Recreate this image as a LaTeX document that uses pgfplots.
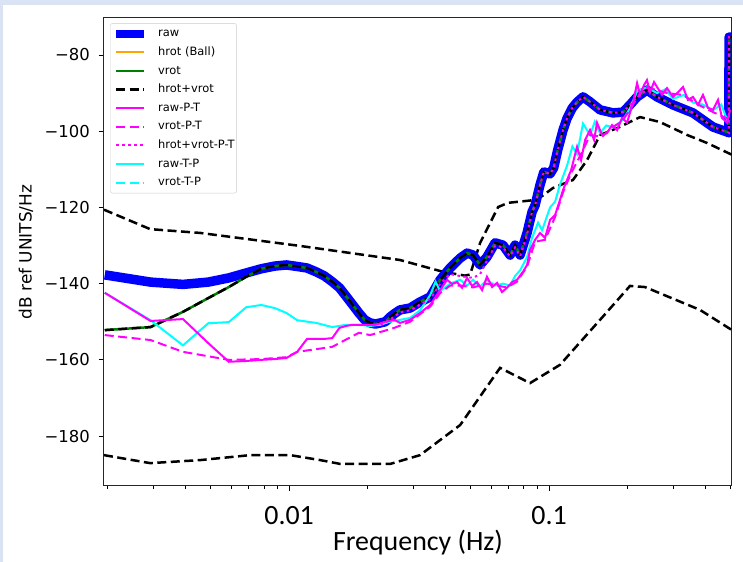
\documentclass[border=0pt]{standalone}
\usepackage{fontspec}
\setmainfont{DejaVu Sans}
\newfontfamily\carlito{Carlito}
\usepackage{pgfplots}
\pgfplotsset{compat=1.18}
\definecolor{bgblue}{RGB}{218,227,243}
\definecolor{mplorange}{RGB}{255,165,0}
\definecolor{mplgreen}{RGB}{0,128,0}
\definecolor{mplblue}{RGB}{0,0,255}
\definecolor{mplmag}{RGB}{255,0,255}
\definecolor{mplcyan}{RGB}{0,255,255}

\pgfplotstableread{
f v
0.001953 -137.7
0.00293 -139.6
0.003906 -140.2
0.004883 -139.6
0.005859 -138.5
0.006836 -137.2
0.007813 -136.1
0.008789 -135.4
0.009766 -135.1
0.010742 -135.5
0.011719 -135.9
0.012695 -136.9
0.013672 -138.0
0.014648 -139.5
0.015625 -141.1
0.016602 -143.4
0.017578 -145.6
0.018555 -147.7
0.019531 -149.5
0.020508 -150.3
0.021484 -150.6
0.022461 -150.3
0.023438 -150.0
0.024414 -148.8
0.025391 -147.9
0.0267 -146.9
0.0292 -146.4
0.0319 -144.8
0.0349 -143.5
0.0381 -139.0
0.0416 -135.9
0.0455 -133.3
0.0484 -132.0
0.0510 -132.5
0.0543 -135.1
0.0577 -133.0
0.0620 -129.3
0.0665 -129.9
0.0708 -132.5
0.0740 -129.9
0.0774 -132.5
0.0823 -126.7
0.0860 -121.2
0.0884 -119.4
0.0923 -114.1
0.0955 -110.7
0.1009 -111.2
0.1042 -109.6
0.1080 -104.9
0.1132 -99.7
0.1173 -96.6
0.1226 -94.0
0.1281 -92.4
0.1351 -91.0
0.1438 -92.3
0.1571 -94.4
0.1763 -95.2
0.1926 -95.0
0.2048 -93.1
0.2181 -91.0
0.2381 -89.2
0.2602 -91.0
0.2998 -93.1
0.3579 -95.2
0.4273 -98.9
0.4837 -100.2
0.4920 -100.4
0.4925 -75.3
0.5056 -75.3
}\rawtab

\pgfplotstableread{
f v
0.001953 -152.2
0.00293 -151.4
0.003906 -147.4
0.004883 -143.8
0.005859 -140.9
0.006836 -138.2
0.007813 -136.1
0.008789 -135.4
0.009766 -135.1
0.010742 -135.5
0.011719 -135.9
0.012695 -136.9
0.013672 -138.0
0.014648 -139.5
0.015625 -141.1
0.016602 -143.4
0.017578 -145.6
0.018555 -147.7
0.019531 -149.5
0.020508 -150.3
0.021484 -150.6
0.022461 -150.3
0.023438 -150.0
0.024414 -148.8
0.025391 -147.9
0.0267 -146.9
0.0292 -146.4
0.0319 -144.8
0.0349 -143.5
0.0381 -139.0
0.0416 -135.9
0.0455 -133.3
0.0484 -132.0
0.0510 -132.5
0.0543 -135.1
0.0577 -133.0
0.0620 -129.3
0.0665 -129.9
0.0708 -132.5
0.0740 -129.9
0.0774 -132.5
0.0823 -126.7
0.0860 -121.2
0.0884 -119.4
0.0923 -114.1
0.0955 -110.7
0.1009 -111.2
0.1042 -109.6
0.1080 -104.9
0.1132 -99.7
0.1173 -96.6
0.1226 -94.0
0.1281 -92.4
0.1351 -91.0
0.1438 -92.3
0.1571 -94.4
0.1763 -95.2
0.1926 -95.0
0.2048 -93.1
0.2181 -91.0
0.2381 -89.2
0.2602 -91.0
0.2998 -93.1
0.3579 -95.2
0.4273 -98.9
0.4837 -100.2
0.4920 -100.4
0.4925 -75.3
0.5056 -75.3
}\vrottab

\pgfplotstableread{
f v
0.0225 -150.8
0.0244 -149.5
0.0267 -147.5
0.0292 -147.0
0.0319 -145.5
0.0349 -144.0
0.0381 -140.0
0.0416 -137.5
0.0455 -138.0
0.0484 -138.3
0.0510 -138.5
0.0543 -137.5
0.0577 -134.0
0.0620 -130.0
0.0665 -130.5
0.0708 -132.8
0.0740 -130.5
0.0774 -132.8
0.0823 -127.0
0.0860 -121.2
0.0884 -119.4
0.0923 -114.1
0.0955 -110.7
0.1009 -111.2
0.1042 -109.6
0.1080 -104.9
0.1132 -99.7
0.1173 -96.6
0.1226 -94.0
0.1281 -92.4
0.1351 -91.0
0.1438 -92.3
0.1571 -94.4
0.1763 -95.2
0.1926 -95.0
0.2048 -93.1
0.2181 -91.0
0.2381 -89.2
0.2602 -91.0
0.2998 -93.1
0.3579 -95.2
0.4273 -98.9
0.4837 -100.2
0.4920 -100.4
0.4925 -75.3
0.5056 -75.3
}\hvpttab

\pgfplotstableread{
f v
0.001953 -142.4
0.00293 -149.8
0.003906 -149.3
0.004883 -155.6
0.005859 -160.5
0.006836 -160.3
0.007813 -160.0
0.008789 -159.8
0.009766 -159.5
0.010742 -157.9
0.011719 -154.5
0.012695 -154.5
0.013672 -154.5
0.014648 -154.3
0.015625 -151.6
0.016602 -151.1
0.017578 -150.8
0.018555 -150.8
0.019531 -150.8
0.021484 -150.8
0.023438 -150.0
0.025391 -149.5
0.0267 -150.3
0.0292 -149.5
0.0319 -147.7
0.0349 -145.6
0.0381 -141.7
0.04052 -139.0
0.04236 -140.1
0.04427 -139.6
0.04628 -141.1
0.04837 -138.5
0.05056 -140.6
0.05284 -139.6
0.05524 -141.7
0.0577 -138.2
0.06036 -140.9
0.0631 -139.8
0.0659 -142.2
0.0689 -141.1
0.0721 -139.6
0.0753 -139.0
0.0794 -136.9
0.0823 -135.1
0.0845 -131.2
0.0884 -128.5
0.0923 -126.7
0.0965 -128.0
0.1009 -123.3
0.1055 -122.0
0.1102 -118.0
0.1132 -115.4
0.1173 -112.8
0.1216 -110.2
0.1281 -104.1
0.1328 -107.6
0.1376 -102.3
0.1438 -99.7
0.1490 -102.3
0.1530 -97.8
0.1599 -101.0
0.1671 -100.5
0.1747 -98.4
0.1828 -99.7
0.1909 -96.5
0.1995 -97.8
0.2103 -92.6
0.2181 -87.4
0.2240 -90.5
0.2319 -87.9
0.2381 -86.6
0.2446 -89.8
0.2534 -87.1
0.2602 -88.4
0.2720 -90.5
0.2843 -88.7
0.2998 -91.0
0.3134 -89.8
0.3276 -88.4
0.3424 -91.8
0.3579 -91.0
0.3741 -93.1
0.3911 -90.5
0.4088 -93.9
0.4273 -94.4
0.4467 -91.8
0.4627 -96.5
0.4837 -97.8
0.4969 -94.4
}\rawpttab

\pgfplotstableread{
f v
0.001953 -153.5
0.00293 -154.8
0.003906 -157.9
0.005859 -160.0
0.007813 -159.8
0.009766 -159.3
0.010742 -157.9
0.014648 -156.6
0.018555 -152.9
0.020508 -153.5
0.025391 -151.6
0.0292 -150.0
0.0319 -148.0
0.0349 -146.0
0.0381 -142.5
0.0416 -140.5
0.0455 -140.5
0.0510 -141.0
0.0577 -140.0
0.0631 -140.5
0.0689 -141.0
0.0753 -139.5
0.0823 -135.5
0.0884 -129.0
0.0965 -128.5
0.1055 -122.5
0.1132 -116.0
0.1216 -111.0
0.1328 -106.0
0.1438 -101.0
0.1599 -101.5
0.1747 -99.0
0.1909 -97.5
0.2103 -93.0
0.2319 -88.5
0.2534 -89.0
0.2843 -90.0
0.3276 -90.5
0.3741 -93.0
0.4273 -95.0
0.4969 -97.0
}\vrotpttab

\pgfplotstableread{
f v
0.001953 -142.4
0.00293 -149.6
0.003906 -156.2
0.004883 -150.4
0.005859 -150.1
0.006836 -146.2
0.007813 -145.6
0.008789 -146.4
0.009766 -147.7
0.010742 -149.6
0.012695 -150.3
0.014648 -151.4
0.016602 -150.8
0.018555 -150.8
0.020508 -151.1
0.022461 -150.8
0.024414 -150.0
0.0267 -149.5
0.0292 -149.0
0.0319 -147.0
0.0349 -143.0
0.0366 -139.5
0.0381 -142.0
0.0416 -140.0
0.0455 -139.0
0.0484 -140.5
0.0510 -139.0
0.0543 -140.8
0.0577 -139.0
0.0620 -140.5
0.0665 -140.0
0.0708 -140.5
0.0740 -138.0
0.0774 -136.5
0.0823 -133.0
0.0860 -128.0
0.0907 -124.0
0.0940 -126.0
0.1009 -120.0
0.1055 -118.5
0.1102 -114.0
0.1173 -109.0
0.1230 -104.0
0.1281 -106.0
0.1351 -98.0
0.1438 -101.0
0.1500 -97.5
0.1571 -100.5
0.1660 -98.5
0.1763 -99.0
0.1926 -97.0
0.2048 -94.0
0.2181 -89.5
0.2381 -88.5
0.2602 -90.0
0.2800 -89.0
0.2998 -91.5
0.3300 -90.5
0.3579 -92.5
0.3900 -93.0
0.4273 -94.5
0.4600 -93.0
0.4837 -97.0
0.4923 -96.0
}\rawtptab

\pgfplotstableread{
f v
0.00194 -120.6
0.00292 -125.7
0.00455 -126.7
0.0110 -130.1
0.0267 -133.8
0.0391 -136.9
0.0475 -137.9
0.0497 -137.6
0.0543 -129.3
0.0637 -119.9
0.0696 -118.8
0.0899 -118.0
0.1036 -114.9
0.1236 -112.8
0.140 -107.6
0.1571 -101.0
0.1828 -99.2
0.224 -96.3
0.267 -97.6
0.340 -101.0
0.4055 -103.1
0.5056 -106.2
}\hightab

\pgfplotstableread{
f v
0.00194 -185.0
0.00292 -187.1
0.00455 -186.3
0.00708 -185.0
0.01009 -185.0
0.01316 -186.3
0.01571 -187.3
0.0245 -187.3
0.0319 -185.0
0.0455 -177.1
0.0648 -162.1
0.0845 -166.1
0.1102 -161.3
0.1571 -149.5
0.2048 -140.6
0.2340 -140.9
0.381 -146.9
0.5056 -152.2
}\lowtab

\begin{document}
\begin{tikzpicture}
\fill[bgblue] (0bp,0bp) rectangle (743bp,562bp);
\fill[white] (3bp,0bp) rectangle (743bp,557bp);
\begin{axis}[
  at={(104bp,76bp)}, anchor=south west,
  scale only axis, width=628bp, height=468bp,
  xmode=log, xmin=0.00194, xmax=0.5056,
  ymin=-193.1, ymax=-70.3,
  xtick={0.01,0.1}, xticklabels={\mbox{0.01},\mbox{0.1}},
  minor xtick={0.002,0.003,0.004,0.005,0.006,0.007,0.008,0.009,0.02,0.03,0.04,0.05,0.06,0.07,0.08,0.09,0.2,0.3,0.4,0.5},
  ytick={-180,-160,-140,-120,-100,-80},
  yticklabels={\mbox{−180},\mbox{−160},\mbox{−140},\mbox{−120},\mbox{−100},\mbox{−80}},
  tick pos=left, tick align=outside,
  major tick length=5bp, minor tick length=3bp,
  tick style={black, line width=0.8bp},
  axis line style={black!85, line width=1bp},
  yticklabel style={font=\fontsize{16.5}{18}\selectfont, anchor=east, inner sep=0pt, xshift=-9bp},
  xticklabel style={font=\carlito\fontsize{28}{30}\selectfont, anchor=center, inner sep=0pt, yshift=-25bp},
  xlabel={Frequency (Hz)},
  xlabel style={font=\carlito\fontsize{28}{30}\selectfont, at={(axis description cs:0.5,0)}, anchor=center, yshift=-57bp},
  ylabel={dB ref UNITS/Hz},
  ylabel style={font=\fontsize{17}{19}\selectfont, at={(axis description cs:-0.1242,0.5)}, anchor=center},
  legend image code/.code={\draw[#1] (0bp,0bp) -- (28bp,0bp);},
  legend cell align=left,
  legend style={at={(0.0096,0.989)}, anchor=north west, draw=black!20, rounded corners=2.5bp,
    fill=white, fill opacity=0.8, text opacity=1,
    font=\fontsize{11.5}{13}\selectfont, inner xsep=2bp, inner ysep=5bp,
    nodes={inner sep=0pt, text height=8.5bp, text depth=2.5bp},
    row sep=7.6bp, column sep=10bp},
]
\addlegendimage{mplblue, line width=8bp}
\addlegendentry{raw}
\addlegendimage{mplorange, line width=2bp}
\addlegendentry{hrot (Ball)}
\addlegendimage{mplgreen, line width=2bp}
\addlegendentry{vrot}
\addlegendimage{black, line width=2.5bp, dash pattern=on 9bp off 4.5bp}
\addlegendentry{hrot+vrot}
\addlegendimage{mplmag, line width=2bp}
\addlegendentry{raw-P-T}
\addlegendimage{mplmag, line width=2bp, dash pattern=on 9bp off 4.5bp}
\addlegendentry{vrot-P-T}
\addlegendimage{mplmag, line width=2bp, dash pattern=on 2.5bp off 3.5bp}
\addlegendentry{hrot+vrot-P-T}
\addlegendimage{mplcyan, line width=2bp}
\addlegendentry{raw-T-P}
\addlegendimage{mplcyan, line width=2bp, dash pattern=on 9bp off 4.5bp}
\addlegendentry{vrot-T-P}

\addplot[forget plot, black, line width=2.5bp, dash pattern=on 9bp off 4.5bp] table[x=f,y=v] {\hightab};
\addplot[forget plot, black, line width=2.5bp, dash pattern=on 9bp off 4.5bp] table[x=f,y=v] {\lowtab};
\addplot[forget plot, mplblue, line width=9.5bp, line join=round] table[x=f,y=v] {\rawtab};
\addplot[forget plot, mplgreen, line width=2.5bp] table[x=f,y=v] {\vrottab};
\addplot[forget plot, black, line width=2.5bp, dash pattern=on 9bp off 4.5bp] table[x=f,y=v] {\vrottab};
\addplot[forget plot, mplcyan, line width=2bp] table[x=f,y=v] {\rawtptab};
\addplot[forget plot, mplmag, line width=2bp] table[x=f,y=v] {\rawpttab};
\addplot[forget plot, mplmag, line width=2bp, dash pattern=on 9bp off 4.5bp] table[x=f,y=v] {\vrotpttab};
\addplot[forget plot, mplmag, line width=2bp, dash pattern=on 2.5bp off 3.5bp] table[x=f,y=v] {\hvpttab};
\end{axis}
\end{tikzpicture}
\end{document}
